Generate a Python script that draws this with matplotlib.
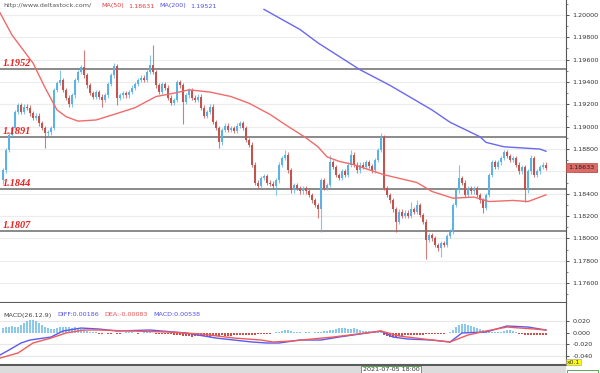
import matplotlib
matplotlib.use("Agg")
import matplotlib.pyplot as plt
import numpy as np
from matplotlib.patches import Rectangle

# EURUSD-style candles (one per bar, left to right)
OPEN = [1.1852, 1.1861, 1.1879, 1.1893, 1.1899, 1.1913, 1.1919, 1.1913, 1.1918, 1.1917,
        1.1912, 1.1908, 1.1910, 1.1903, 1.1899, 1.1894, 1.1895, 1.1899, 1.1933, 1.1939,
        1.1942, 1.1933, 1.1926, 1.1920, 1.1928, 1.1942, 1.1949, 1.1953, 1.1946, 1.1937,
        1.1930, 1.1927, 1.1931, 1.1927, 1.1924, 1.1928, 1.1938, 1.1946, 1.1954, 1.1926,
        1.1928, 1.1930, 1.1928, 1.1931, 1.1935, 1.1938, 1.1942, 1.1944, 1.1942, 1.1949,
        1.1955, 1.1949, 1.1937, 1.1931, 1.1938, 1.1935, 1.1926, 1.1921, 1.1924, 1.1940,
        1.1937, 1.1922, 1.1928, 1.1933, 1.1926, 1.1924, 1.1927, 1.1917, 1.1910, 1.1913,
        1.1918, 1.1904, 1.1899, 1.1886, 1.1897, 1.1901, 1.1897, 1.1899, 1.1896, 1.1901,
        1.1903, 1.1899, 1.1888, 1.1884, 1.1866, 1.1850, 1.1847, 1.1854, 1.1856, 1.1850,
        1.1849, 1.1847, 1.1852, 1.1866, 1.1872, 1.1875, 1.1861, 1.1843, 1.1848, 1.1845,
        1.1842, 1.1845, 1.1842, 1.1839, 1.1834, 1.1830, 1.1826, 1.1852, 1.1845, 1.1848,
        1.1868, 1.1864, 1.1857, 1.1854, 1.1860, 1.1857, 1.1866, 1.1875, 1.1866, 1.1861,
        1.1866, 1.1864, 1.1868, 1.1865, 1.1861, 1.1870, 1.1879, 1.1891, 1.1845, 1.1839,
        1.1834, 1.1826, 1.1815, 1.1824, 1.1820, 1.1823, 1.1820, 1.1826, 1.1824, 1.1830,
        1.1821, 1.1815, 1.1799, 1.1803, 1.1800, 1.1794, 1.1791, 1.1796, 1.1794, 1.1802,
        1.1806, 1.1830, 1.1843, 1.1854, 1.1850, 1.1839, 1.1845, 1.1842, 1.1845, 1.1839,
        1.1834, 1.1827, 1.1839, 1.1857, 1.1868, 1.1864, 1.1868, 1.1872, 1.1877, 1.1874,
        1.1870, 1.1872, 1.1866, 1.1860, 1.1864, 1.1843, 1.1860, 1.1872, 1.1857, 1.1860,
        1.1864, 1.1866]
CLOSE = [1.1861, 1.1879, 1.1893, 1.1899, 1.1913, 1.1919, 1.1913, 1.1918, 1.1917, 1.1912,
         1.1908, 1.1910, 1.1903, 1.1899, 1.1894, 1.1895, 1.1899, 1.1933, 1.1939, 1.1942,
         1.1933, 1.1926, 1.1920, 1.1928, 1.1942, 1.1949, 1.1953, 1.1946, 1.1937, 1.1930,
         1.1927, 1.1931, 1.1927, 1.1924, 1.1928, 1.1938, 1.1946, 1.1954, 1.1926, 1.1928,
         1.1930, 1.1928, 1.1931, 1.1935, 1.1938, 1.1942, 1.1944, 1.1942, 1.1949, 1.1955,
         1.1949, 1.1937, 1.1931, 1.1938, 1.1935, 1.1926, 1.1921, 1.1924, 1.1940, 1.1937,
         1.1922, 1.1928, 1.1933, 1.1926, 1.1924, 1.1927, 1.1917, 1.1910, 1.1913, 1.1918,
         1.1904, 1.1899, 1.1886, 1.1897, 1.1901, 1.1897, 1.1899, 1.1896, 1.1901, 1.1903,
         1.1899, 1.1888, 1.1884, 1.1866, 1.1850, 1.1847, 1.1854, 1.1856, 1.1850, 1.1849,
         1.1847, 1.1852, 1.1866, 1.1872, 1.1875, 1.1861, 1.1843, 1.1848, 1.1845, 1.1842,
         1.1845, 1.1842, 1.1839, 1.1834, 1.1830, 1.1826, 1.1852, 1.1845, 1.1848, 1.1868,
         1.1864, 1.1857, 1.1854, 1.1860, 1.1857, 1.1866, 1.1875, 1.1866, 1.1861, 1.1866,
         1.1864, 1.1868, 1.1865, 1.1861, 1.1870, 1.1879, 1.1891, 1.1845, 1.1839, 1.1834,
         1.1826, 1.1815, 1.1824, 1.1820, 1.1823, 1.1820, 1.1826, 1.1824, 1.1830, 1.1821,
         1.1815, 1.1799, 1.1803, 1.1800, 1.1794, 1.1791, 1.1796, 1.1794, 1.1802, 1.1806,
         1.1830, 1.1843, 1.1854, 1.1850, 1.1839, 1.1845, 1.1842, 1.1845, 1.1839, 1.1834,
         1.1827, 1.1839, 1.1857, 1.1868, 1.1864, 1.1868, 1.1872, 1.1877, 1.1874, 1.1870,
         1.1872, 1.1866, 1.1860, 1.1864, 1.1843, 1.1860, 1.1872, 1.1857, 1.1860, 1.1864,
         1.1866, 1.18633]
HIGH = [1.1863, 1.1881, 1.1895, 1.1901, 1.1915, 1.1921, 1.1921, 1.1920, 1.1920, 1.1919,
        1.1914, 1.1912, 1.1912, 1.1905, 1.1901, 1.1897, 1.1901, 1.1935, 1.1941, 1.1951,
        1.1944, 1.1935, 1.1928, 1.1930, 1.1944, 1.1951, 1.1955, 1.1969, 1.1948, 1.1939,
        1.1932, 1.1933, 1.1933, 1.1929, 1.1930, 1.1940, 1.1948, 1.1957, 1.1956, 1.1930,
        1.1932, 1.1932, 1.1933, 1.1937, 1.1940, 1.1944, 1.1946, 1.1946, 1.1951, 1.1964,
        1.1973, 1.1951, 1.1939, 1.1940, 1.1940, 1.1937, 1.1928, 1.1926, 1.1942, 1.1942,
        1.1939, 1.1930, 1.1935, 1.1935, 1.1928, 1.1929, 1.1929, 1.1919, 1.1915, 1.1920,
        1.1920, 1.1906, 1.1901, 1.1899, 1.1903, 1.1903, 1.1901, 1.1901, 1.1903, 1.1905,
        1.1905, 1.1901, 1.1890, 1.1886, 1.1868, 1.1852, 1.1856, 1.1858, 1.1858, 1.1852,
        1.1851, 1.1854, 1.1868, 1.1874, 1.1879, 1.1877, 1.1863, 1.1850, 1.1850, 1.1847,
        1.1847, 1.1847, 1.1844, 1.1841, 1.1836, 1.1832, 1.1854, 1.1854, 1.1850, 1.1875,
        1.1870, 1.1866, 1.1859, 1.1862, 1.1862, 1.1868, 1.1879, 1.1877, 1.1868, 1.1868,
        1.1868, 1.1870, 1.1870, 1.1867, 1.1872, 1.1881, 1.1894, 1.1893, 1.1847, 1.1841,
        1.1836, 1.1828, 1.1826, 1.1826, 1.1825, 1.1825, 1.1833, 1.1828, 1.1834, 1.1832,
        1.1823, 1.1817, 1.1805, 1.1805, 1.1802, 1.1796, 1.1798, 1.1798, 1.1804, 1.1808,
        1.1832, 1.1845, 1.1866, 1.1856, 1.1852, 1.1847, 1.1847, 1.1847, 1.1847, 1.1841,
        1.1836, 1.1841, 1.1859, 1.1870, 1.1870, 1.1870, 1.1874, 1.1879, 1.1879, 1.1876,
        1.1874, 1.1874, 1.1868, 1.1866, 1.1866, 1.1862, 1.1875, 1.1874, 1.1862, 1.1866,
        1.1868, 1.1868]
LOW = [1.1849, 1.1859, 1.1877, 1.1891, 1.1897, 1.1911, 1.1911, 1.1911, 1.1915, 1.1910,
       1.1906, 1.1906, 1.1901, 1.1897, 1.1881, 1.1892, 1.1893, 1.1897, 1.1931, 1.1937,
       1.1931, 1.1924, 1.1918, 1.1918, 1.1926, 1.1940, 1.1947, 1.1944, 1.1935, 1.1928,
       1.1925, 1.1925, 1.1925, 1.1918, 1.1922, 1.1926, 1.1936, 1.1944, 1.1919, 1.1924,
       1.1926, 1.1926, 1.1926, 1.1929, 1.1933, 1.1936, 1.1940, 1.1940, 1.1940, 1.1947,
       1.1947, 1.1935, 1.1929, 1.1929, 1.1933, 1.1924, 1.1919, 1.1919, 1.1922, 1.1935,
       1.1902, 1.1920, 1.1926, 1.1924, 1.1922, 1.1922, 1.1915, 1.1908, 1.1908, 1.1911,
       1.1902, 1.1897, 1.1881, 1.1884, 1.1895, 1.1895, 1.1895, 1.1894, 1.1894, 1.1899,
       1.1897, 1.1886, 1.1882, 1.1864, 1.1848, 1.1845, 1.1845, 1.1852, 1.1848, 1.1847,
       1.1845, 1.1839, 1.1850, 1.1864, 1.1870, 1.1859, 1.1841, 1.1841, 1.1843, 1.1840,
       1.1840, 1.1840, 1.1837, 1.1832, 1.1828, 1.1818, 1.1806, 1.1843, 1.1843, 1.1846,
       1.1862, 1.1855, 1.1852, 1.1852, 1.1855, 1.1855, 1.1864, 1.1864, 1.1859, 1.1859,
       1.1862, 1.1862, 1.1863, 1.1859, 1.1859, 1.1868, 1.1877, 1.1843, 1.1837, 1.1832,
       1.1824, 1.1806, 1.1813, 1.1818, 1.1818, 1.1818, 1.1818, 1.1822, 1.1822, 1.1819,
       1.1813, 1.1782, 1.1797, 1.1798, 1.1792, 1.1789, 1.1783, 1.1792, 1.1792, 1.1800,
       1.1804, 1.1828, 1.1841, 1.1848, 1.1837, 1.1837, 1.1840, 1.1840, 1.1837, 1.1832,
       1.1823, 1.1825, 1.1837, 1.1855, 1.1862, 1.1862, 1.1866, 1.1870, 1.1872, 1.1868,
       1.1868, 1.1864, 1.1858, 1.1858, 1.1833, 1.1841, 1.1858, 1.1855, 1.1855, 1.1858,
       1.1862, 1.1861]

# moving averages (sampled where they could be read)
MA50_IDX = [-1, 3, 10, 14, 18, 21, 25, 31, 37, 44, 51, 57, 62, 69, 76, 82, 89, 94, 101,
            105, 108, 112, 117, 127, 138, 143, 150, 157, 162, 170, 175, 181]
MA50_VAL = [1.2002, 1.1982, 1.1957, 1.1935, 1.1915, 1.1909, 1.1905, 1.1906, 1.1911, 1.1917,
            1.1927, 1.1930, 1.1933, 1.1931, 1.1927, 1.1921, 1.1911, 1.1902, 1.1890, 1.1882,
            1.1873, 1.1869, 1.1866, 1.1857, 1.1850, 1.1842, 1.1836, 1.1837, 1.1833, 1.1834,
            1.1833, 1.1839]
MA200_IDX = [87, 99, 105, 119, 129, 143, 149, 159, 161, 167, 179, 181]
MA200_VAL = [1.2005, 1.1987, 1.1975, 1.1951, 1.1937, 1.1915, 1.1904, 1.1891, 1.1886, 1.1882,
             1.1880, 1.1878]

LEVELS = [1.1952, 1.1891, 1.1844, 1.1807]
LEVEL_LABELS = ["1.1952", "1.1891", "1.1844", "1.1807"]
PRICE_TICKS = [1.176, 1.178, 1.180, 1.182, 1.184, 1.186, 1.188, 1.190, 1.192, 1.194,
               1.196, 1.198, 1.200]
LAST_PRICE = 1.18633

# MACD panel
DIFF_IDX = [-1, 2, 6, 9, 16, 20, 26, 32, 38, 49, 61, 71, 83, 88, 92, 99, 106, 112, 119,
            126, 130, 135, 143, 149, 153, 161, 168, 175, 181]
DIFF_VAL = [-0.0381, -0.0296, -0.0176, -0.0125, -0.0074, 0.0029, 0.0080, 0.0063, 0.0029,
            0.0046, -0.0005, -0.0091, -0.0159, -0.0176, -0.0176, -0.0125, -0.0125, -0.0074,
            -0.0022, 0.0029, -0.0074, -0.0108, -0.0125, -0.0159, -0.0005, 0.0012, 0.0115,
            0.0097, 0.0046]
DEA_IDX = [-1, 5, 10, 16, 21, 27, 32, 43, 55, 66, 77, 86, 90, 96, 110, 121, 126, 132, 143,
           149, 155, 161, 168, 177, 181]
DEA_VAL = [-0.0433, -0.0347, -0.0176, -0.0091, -0.0005, 0.0046, 0.0046, 0.0029, 0.0012,
           -0.0022, -0.0091, -0.0125, -0.0159, -0.0142, -0.0074, -0.0005, 0.0029, -0.0056,
           -0.0125, -0.0159, -0.0039, 0.0029, 0.0097, 0.0063, 0.0046]
HIST = [0.0086, 0.0103, 0.0103, 0.0120, 0.0103, 0.0103,
        0.0137, 0.0171, 0.0205, 0.0222, 0.0222, 0.0205, 0.0171,
        0.0137, 0.0103, 0.0086, 0.0068,
        0.0068, 0.0086, 0.0103, 0.0103, 0.0103, 0.0103, 0.0086, 0.0103, 0.0086, 0.0068,
        0.0051, 0.0034, 0.0017, 0.0017, 0.0009,
        -0.0017, -0.0017, -0.0009, -0.0017, -0.0017, -0.0009, -0.0017, -0.0017, -0.0009,
        0.0009, 0.0009, 0.0009, -0.0009, -0.0017, -0.0009, 0.0009, 0.0009, 0.0009, -0.0009,
        -0.0017, -0.0017, -0.0026, -0.0026, -0.0017, -0.0017,
        -0.0034, -0.0034, -0.0043, -0.0051, -0.0051, -0.0060, -0.0068, -0.0060, -0.0051,
        -0.0051, -0.0060, -0.0068, -0.0068, -0.0060, -0.0051, -0.0051, -0.0043, -0.0051,
        -0.0060, -0.0051, -0.0043, -0.0034, -0.0034, -0.0043, -0.0034, -0.0034,
        -0.0034, -0.0034, -0.0026, -0.0026, -0.0017, -0.0017, -0.0017, -0.0009, 0.0009,
        0.0017, 0.0034, 0.0051,
        0.0051, 0.0034, 0.0017, 0.0017, 0.0009,
        -0.0009, 0.0009, 0.0009, -0.0009, 0.0009, 0.0009,
        0.0017, 0.0034, 0.0034, 0.0051, 0.0051,
        0.0068, 0.0086, 0.0086, 0.0086, 0.0068, 0.0068, 0.0086, 0.0068, 0.0051,
        0.0034, 0.0034, 0.0026, 0.0017, 0.0017, 0.0017,
        0.0009, -0.0034, -0.0051, -0.0068, -0.0068, -0.0068, -0.0060, -0.0051,
        -0.0043, -0.0043, -0.0034, -0.0034, -0.0034, -0.0034, -0.0034, -0.0026, -0.0026,
        -0.0026, -0.0026, -0.0017, -0.0017, -0.0017, -0.0009,
        0.0017, 0.0051, 0.0103, 0.0137, 0.0154, 0.0154, 0.0137, 0.0120,
        0.0103, 0.0086, 0.0068, 0.0051, 0.0034, 0.0034, 0.0017, 0.0017, 0.0009,
        0.0017, 0.0034, 0.0051, 0.0051, 0.0034, 0.0017,
        -0.0017, -0.0026, -0.0034, -0.0034, -0.0043, -0.0043, -0.0034, -0.0034, -0.0034,
        -0.0034]
MACD_TICKS = [0.02, 0.0, -0.02, -0.04]
DATE_LABEL = "2021-07-05 18:00"

UP = "#5cb2e4"
DOWN = "#c4524f"
W, H = 600, 373


def fy(py):
    return 1 - py / H


fig = plt.figure(figsize=(6, 3.73), dpi=100)
ax = fig.add_axes([0, fy(303), 566 / W, 303 / H])
ax2 = fig.add_axes([0, fy(365), 566 / W, 62 / H])

o = np.array(OPEN)
c = np.array(CLOSE)
hi = np.array(HIGH)
lo = np.array(LOW)
idx = np.arange(len(c))
up = c >= o
cols = np.where(up, UP, DOWN)

# grid + support/resistance levels
for t in PRICE_TICKS:
    ax.axhline(t, color="#ececec", lw=0.8, zorder=0)
for lvl, lab in zip(LEVELS, LEVEL_LABELS):
    ax.axhline(lvl, color="#8a8a8a", lw=1.4, zorder=1)
    ax.text(0.005, lvl + 0.00025, lab, transform=ax.get_yaxis_transform(),
            color="#e8201c", fontsize=7.4, fontweight="bold", fontstyle="italic",
            family="Liberation Serif", va="baseline", ha="left", zorder=6)

# candles
ax.vlines(idx, lo, hi, colors=cols, lw=0.8, alpha=0.75, zorder=3)
body = np.maximum(np.abs(c - o), 0.00004)
ax.bar(idx, body, bottom=np.minimum(o, c), width=0.7, color=cols, zorder=4, lw=0)

ax.plot(MA50_IDX, MA50_VAL, color="#f26a6a", lw=1.0, zorder=5)
ax.plot(MA200_IDX, MA200_VAL, color="#6868f0", lw=1.0, zorder=5)

ax.set_xlim(-1, 187.67)
ax.set_ylim(1.17422, 1.20134)
ax.set_xticks([])
ax.yaxis.tick_right()
ax.set_yticks(PRICE_TICKS)
ax.set_yticklabels([f"{t:.5f}" for t in PRICE_TICKS])
ax.set_yticks(np.arange(1.175, 1.2011, 0.001), minor=True)
ax.tick_params(axis="y", which="major", labelsize=4.6, colors="#333333", length=2.5,
               pad=2, width=0.6)
ax.tick_params(axis="y", which="minor", length=1.5, width=0.5, colors="#555555")
for s in ["left", "top"]:
    ax.spines[s].set_visible(False)
ax.spines["right"].set_color("#555555")
ax.spines["bottom"].set_color("#5a5a5a")
ax.spines["bottom"].set_linewidth(1.5)

# last price box on the axis
ax.text(1.004, LAST_PRICE, f"{LAST_PRICE:.5f}", transform=ax.get_yaxis_transform(),
        va="center", ha="left", fontsize=4.6, color="#222222", clip_on=False, zorder=10,
        bbox=dict(boxstyle="square,pad=0.35", fc="#dc6a65", ec="#b94a46", lw=0.5))

# header of the main panel
fig.text(3 / W, fy(6), "http://www.deltastock.com/", fontsize=4.6, color="#555555", va="center")
fig.text(101 / W, fy(6), "MA(50)", fontsize=4.6, color="#e83c3c", va="center")
fig.text(128 / W, fy(6), "1.18631", fontsize=4.6, color="#e83c3c", va="center")
fig.text(159 / W, fy(6), "MA(200)", fontsize=4.6, color="#5050e6", va="center")
fig.text(190 / W, fy(6), "1.19521", fontsize=4.6, color="#5050e6", va="center")

# MACD panel
for t in [0.02, -0.02, -0.04]:
    ax2.axhline(t, color="#e8e8e8", lw=0.8, zorder=0)
h = np.array(HIST)
ax2.bar(idx, h, width=0.35, color=np.where(h >= 0, "#8cc8ea", "#c8504c"), lw=0, zorder=2)
ax2.plot(DIFF_IDX, DIFF_VAL, color="#5a5af2", lw=1.0, zorder=3)
ax2.plot(DEA_IDX, DEA_VAL, color="#f25a5a", lw=1.0, zorder=3)
ax2.set_xlim(-1, 187.67)
ax2.set_ylim(-0.0552, 0.0508)
ax2.set_xticks([])
ax2.yaxis.tick_right()
ax2.set_yticks(MACD_TICKS)
ax2.set_yticklabels([f"{t:.3f}" for t in MACD_TICKS])
ax2.tick_params(axis="y", labelsize=4.6, colors="#333333", length=2.5, pad=2, width=0.6)
for s in ["left", "top"]:
    ax2.spines[s].set_visible(False)
ax2.spines["right"].set_color("#555555")
ax2.spines["bottom"].set_color("#5a5a5a")
ax2.spines["bottom"].set_linewidth(1.5)

fig.text(3 / W, fy(315), "MACD(26.12.9)", fontsize=4.6, color="#444444", va="center")
fig.text(57 / W, fy(315), "DIFF:0.00186", fontsize=4.6, color="#4f4ff0", va="center")
fig.text(104 / W, fy(315), "DEA:-0.00083", fontsize=4.6, color="#f04f4f", va="center")
fig.text(153 / W, fy(315), "MACD:0.00538", fontsize=4.6, color="#4f4ff0", va="center")
fig.text(567 / W, fy(362), "x0.1", fontsize=4.4, color="#333333", va="center",
         bbox=dict(boxstyle="square,pad=0.15", fc="#ffff00", ec="#999999", lw=0.4))

# bottom time strip
fig.patches.append(Rectangle((0, 0), 566 / W, fy(366), transform=fig.transFigure,
                             fc="#dcdcdc", ec="none", zorder=0))
fig.text(391 / W, fy(369.5), DATE_LABEL, fontsize=4.6, color="#333333", ha="center",
         va="center", bbox=dict(boxstyle="square,pad=0.2", fc="white", ec="#3f9a3f", lw=0.6))
fig.patches.append(Rectangle((567 / W, 0), 31 / W, fy(369.5), transform=fig.transFigure,
                             fc="white", ec="#3f9a3f", lw=0.6, zorder=1))

fig.savefig("out.png", dpi=100)
